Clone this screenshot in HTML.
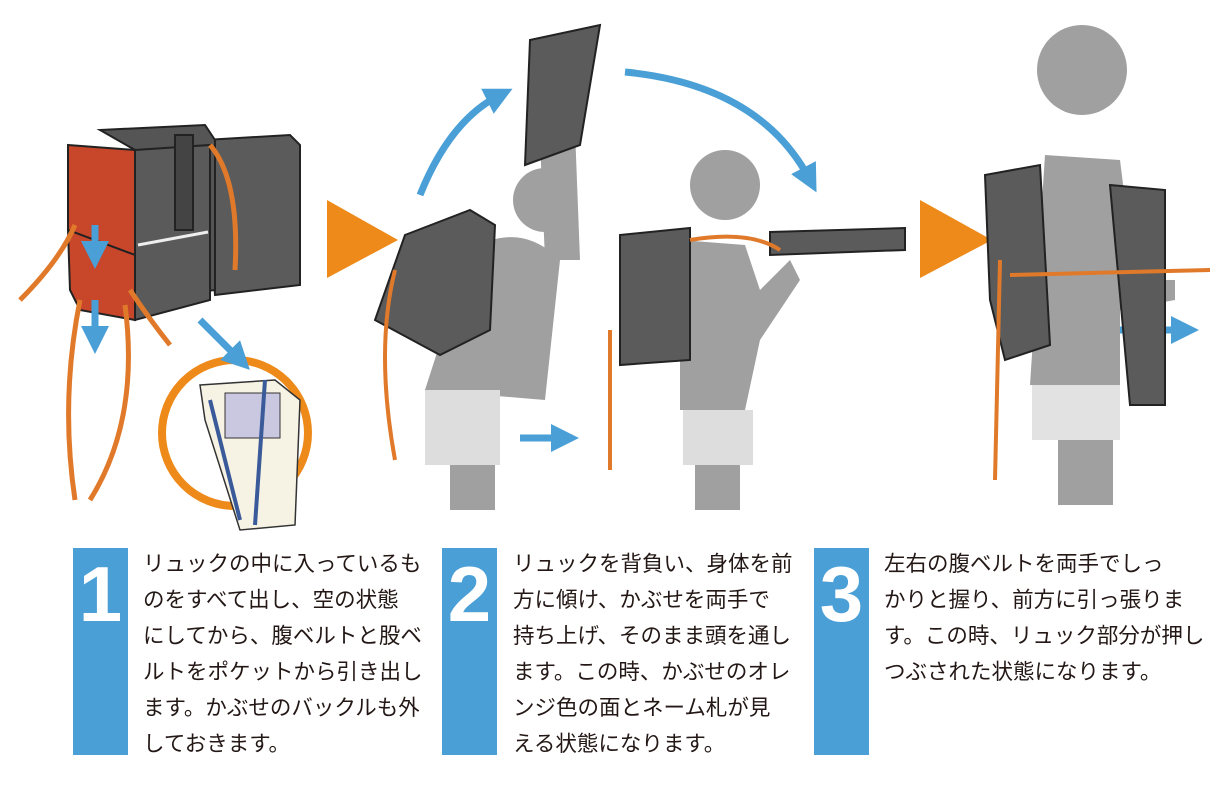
<!DOCTYPE html>
<html><head><meta charset="utf-8"><style>
body{margin:0;width:1230px;height:800px;background:#fff;position:relative;overflow:hidden;font-family:"Liberation Sans","Noto Sans CJK JP",sans-serif}
.bar{position:absolute;top:548px;width:55px;height:207px;background:#4a9fd6;color:#fff;font-weight:bold;font-size:78px;text-align:center;line-height:92px}
.txt{position:absolute;top:546px;font-size:21.5px;line-height:36px;color:#231815;letter-spacing:0;white-space:nowrap}
svg{position:absolute;left:0;top:0}
</style></head><body>
<svg width="1230" height="545" viewBox="0 0 1230 545">
<defs><marker id="ah" markerWidth="4" markerHeight="4" refX="2" refY="2" orient="auto" markerUnits="strokeWidth"><path d="M0,0 L4,2 L0,4z" fill="#4a9fd6"/></marker></defs>
<g stroke="#222" stroke-width="2">
<polygon points="205,140 290,135 300,145 300,285 215,295" fill="#5b5b5b"/>
<polygon points="100,130 205,125 215,140 215,290 135,300 135,150" fill="#555"/>
<polygon points="68,145 135,150 135,255 68,230" fill="#c8462a"/>
<polygon points="68,230 135,255 135,320 80,310 70,290" fill="#c8462a"/>
<polygon points="135,150 210,145 210,300 135,320" fill="#5a5a5a"/>
<rect x="175" y="135" width="18" height="95" fill="#444"/>
</g>
<line x1="138" y1="245" x2="208" y2="232" stroke="#eee" stroke-width="3"/>
<g fill="none" stroke="#e07a2a" stroke-width="5">
<path d="M75,225 Q60,260 20,300"/><path d="M80,300 Q60,400 75,500"/><path d="M125,305 Q140,420 90,500"/><path d="M130,290 Q150,320 170,345"/>
<path d="M210,145 Q240,180 235,270"/>
</g>
<circle cx="235" cy="433" r="73" fill="#fff" stroke="#ee8a1a" stroke-width="8"/>
<polygon points="200,385 275,380 300,400 295,525 240,530 205,420" fill="#f7f3e4" stroke="#333" stroke-width="1.5"/>
<rect x="225" y="393" width="55" height="45" fill="#c9c8e0" stroke="#333"/>
<path d="M210,400 L240,520 M265,380 L255,525" stroke="#3a5a9a" stroke-width="4" fill="none"/>
<g stroke="#4a9fd6" stroke-width="7" fill="none" marker-end="url(#ah)">
<path d="M95,225 L95,255"/><path d="M95,300 L95,340"/><path d="M200,320 L240,360"/>
<path d="M420,195 Q450,120 500,95"/><path d="M625,72 Q760,85 810,180"/>
<path d="M520,438 L565,438"/><path d="M1020,330 L1185,330"/>
</g>
<polygon points="327,200 327,278 398,240" fill="#ee8a1a"/>
<polygon points="920,200 920,278 992,240" fill="#ee8a1a"/>
<g fill="#a0a0a0">
<circle cx="545" cy="200" r="32"/>
<path d="M470,250 Q520,220 560,260 L545,400 L425,390 Z"/>
<path d="M540,140 L575,130 L580,260 L545,260 Z"/>
<rect x="450" y="465" width="45" height="45"/>
<circle cx="725" cy="185" r="35"/>
<path d="M680,240 L745,245 L760,290 L790,260 L800,280 L760,340 L745,410 L680,410 Z"/>
<rect x="695" y="465" width="45" height="45"/>
<circle cx="1082" cy="70" r="45"/>
<path d="M1045,155 L1120,160 L1135,280 L1175,280 L1175,300 L1120,310 L1120,385 L1030,385 Z"/>
<rect x="1058" y="440" width="55" height="65"/>
</g>
<rect x="425" y="390" width="75" height="75" fill="#ddd"/>
<rect x="683" y="410" width="70" height="55" fill="#ddd"/>
<rect x="1032" y="385" width="88" height="55" fill="#e2e2e2"/>
<g stroke="#222" stroke-width="2">
<polygon points="405,235 470,210 495,225 490,330 440,355 375,320" fill="#5b5b5b"/>
<polygon points="530,40 600,25 580,145 525,165" fill="#5b5b5b"/>
<polygon points="620,235 690,228 690,360 620,365" fill="#5b5b5b"/>
<polygon points="770,232 905,228 905,250 770,255" fill="#5b5b5b"/>
<polygon points="985,175 1040,165 1050,345 1005,360 990,300" fill="#5b5b5b"/>
<polygon points="1110,185 1165,190 1165,405 1130,405" fill="#5b5b5b"/>
</g>
<g fill="none" stroke="#e07a2a" stroke-width="4">
<path d="M395,270 Q375,350 395,460"/><path d="M610,330 L610,470"/><path d="M1000,260 L995,480"/>
<path d="M690,240 Q750,230 780,250"/><path d="M1010,275 L1210,270"/>
</g>
</svg>
<div class="bar" style="left:73px">1</div>
<div class="txt" style="left:143px">リュックの中に入っているも<br>のをすべて出し、空の状態<br>にしてから、腹ベルトと股ベ<br>ルトをポケットから引き出し<br>ます。かぶせのバックルも外<br>しておきます。</div>
<div class="bar" style="left:442px">2</div>
<div class="txt" style="left:513px">リュックを背負い、身体を前<br>方に傾け、かぶせを両手で<br>持ち上げ、そのまま頭を通し<br>ます。この時、かぶせのオレ<br>ンジ色の面とネーム札が見<br>える状態になります。</div>
<div class="bar" style="left:814px">3</div>
<div class="txt" style="left:884px">左右の腹ベルトを両手でしっ<br>かりと握り、前方に引っ張りま<br>す。この時、リュック部分が押し<br>つぶされた状態になります。</div>
</body></html>
